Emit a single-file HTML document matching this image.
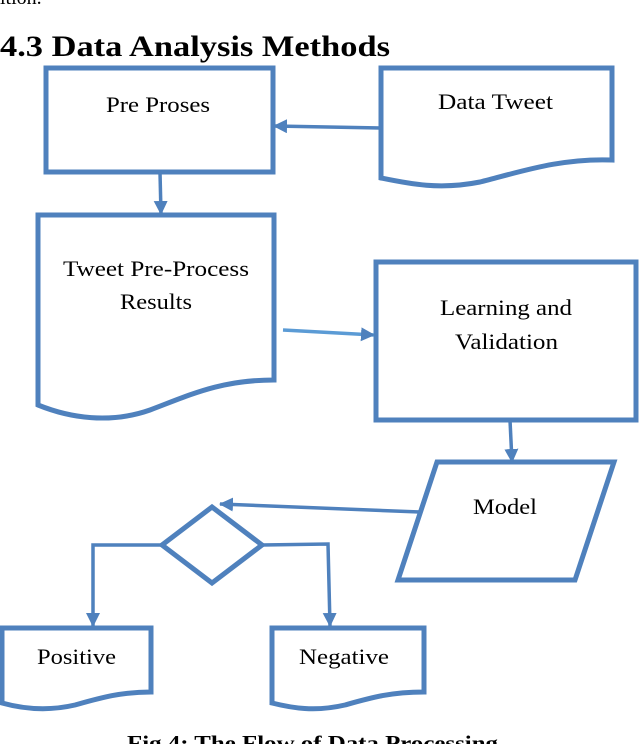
<!DOCTYPE html>
<html><head><style>
body{margin:0;background:#fff;width:640px;height:744px;overflow:hidden;font-family:"Liberation Serif",serif;}
svg{position:absolute;left:0;top:0}
</style></head><body>
<svg width="640" height="744" viewBox="0 0 640 744">
<defs><marker id="a" markerWidth="16" markerHeight="16" refX="13" refY="7" orient="auto" markerUnits="userSpaceOnUse"><path d="M0,0 L14,7 L0,14 z" fill="#4f81bd"/></marker></defs>
<text x="0" y="4" font-size="20">ition.</text>
<text x="0" y="56" font-size="30" font-weight="bold" textLength="390" lengthAdjust="spacingAndGlyphs">4.3  Data Analysis Methods</text>
<g fill="none" stroke="#4f81bd" stroke-width="5">
<rect x="46" y="68" width="227" height="104"/>
<path d="M381,68 H612 V160 C560,158 520,172 480,182 C440,190 410,184 381,178 Z"/>
<path d="M38,215 H274 V380 C220,380 190,395 150,410 C110,424 70,418 38,405 Z"/>
<rect x="376" y="262" width="260" height="158"/>
<path d="M437,462 H614 L575,580 H398 Z"/>
<path d="M212,507 L262,545 L212,583 L162,545 Z"/>
<path d="M2,628 H151 V692 C120,692 100,698 75,705 C45,712 20,708 2,703 Z"/>
<path d="M272,628 H424 V692 C390,692 370,698 345,705 C315,712 292,708 272,703 Z"/>
</g>
<g fill="none" stroke="#4f81bd" stroke-width="3.5">
<line x1="381" y1="128" x2="274" y2="126" marker-end="url(#a)"/>
<line x1="160" y1="172" x2="161" y2="214" marker-end="url(#a)"/>
<line x1="283" y1="330" x2="374" y2="335" marker-end="url(#a)" stroke="#5b9bd5"/>
<line x1="510" y1="420" x2="512" y2="462" marker-end="url(#a)"/>
<line x1="420" y1="512" x2="220" y2="504" marker-end="url(#a)"/>
<polyline points="162,545 93,545 93,626" marker-end="url(#a)"/>
<polyline points="262,545 328,544 330,626" marker-end="url(#a)"/>
</g>
<g font-size="22" lengthAdjust="spacingAndGlyphs">
<text x="106" y="112" textLength="104" lengthAdjust="spacingAndGlyphs">Pre Proses</text>
<text x="438" y="109" textLength="115" lengthAdjust="spacingAndGlyphs">Data Tweet</text>
<text x="63" y="276" textLength="186" lengthAdjust="spacingAndGlyphs">Tweet Pre-Process</text>
<text x="120" y="309" textLength="72" lengthAdjust="spacingAndGlyphs">Results</text>
<text x="440" y="315" textLength="132" lengthAdjust="spacingAndGlyphs">Learning and</text>
<text x="455" y="349" textLength="103" lengthAdjust="spacingAndGlyphs">Validation</text>
<text x="473" y="514" textLength="64" lengthAdjust="spacingAndGlyphs">Model</text>
<text x="37" y="664" textLength="79" lengthAdjust="spacingAndGlyphs">Positive</text>
<text x="299" y="664" textLength="90" lengthAdjust="spacingAndGlyphs">Negative</text>
</g>
<text x="127" y="750" font-size="21" font-weight="bold" textLength="371" lengthAdjust="spacingAndGlyphs">Fig 4: The Flow of Data Processing</text>
</svg>
</body></html>
